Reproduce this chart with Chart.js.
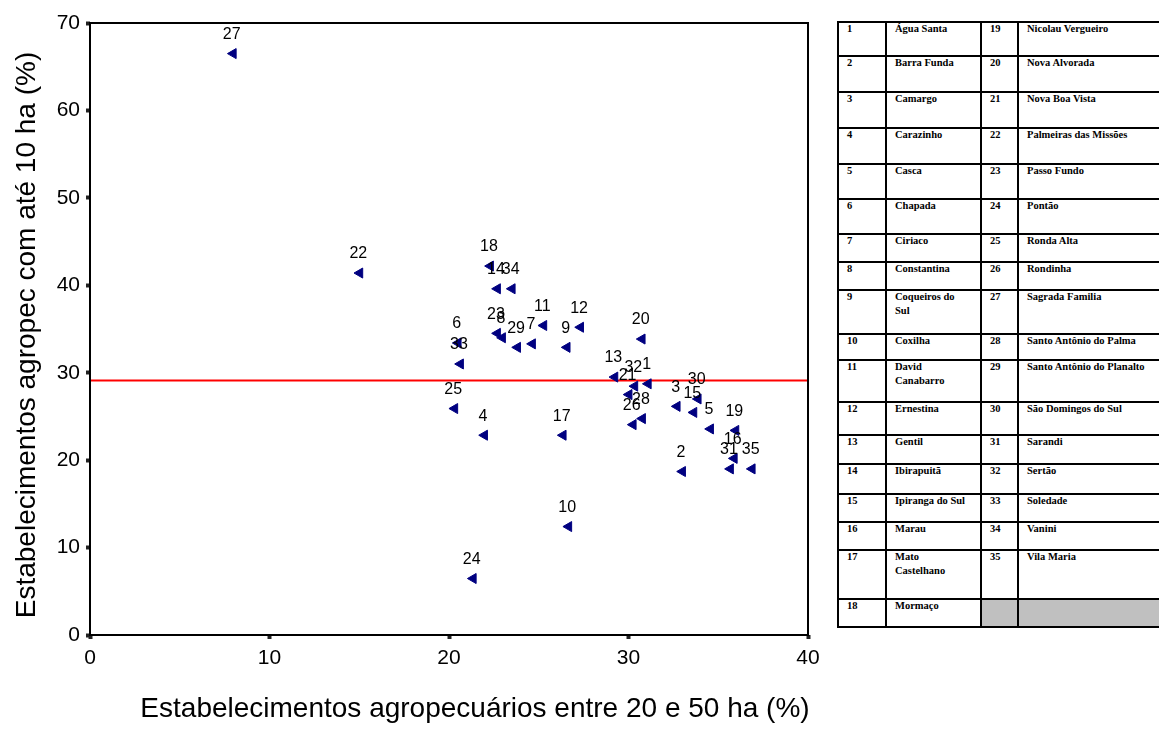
<!DOCTYPE html>
<html>
<head>
<meta charset="utf-8">
<script src="https://cdn.jsdelivr.net/npm/chart.js@4.4.0/dist/chart.umd.min.js"></script>
<style>
  html, body { margin: 0; padding: 0; background: #fff; overflow: hidden; }
  #wrap { position: relative; width: 1159px; height: 742px; }
  #grafico { position: absolute; left: 0; top: 0; }
  #legenda {
    position: absolute; left: 837px; top: 21px;
    border-collapse: collapse; table-layout: fixed; width: 330px;
    font-family: "Times New Roman", "Liberation Serif", serif;
    font-weight: bold; font-size: 10.5px; line-height: 14px; color: #000;
  }
  #legenda td { border: 2px solid #000; vertical-align: top; padding: 0 0 0 8px; }
  #legenda td span { position: relative; top: -1px; display: block; }
  #legenda td.nome { padding-right: 12px; }
  #legenda td.vazio { background: #c0c0c0; }
</style>
</head>
<body>
<div id="wrap">
  <canvas id="grafico" width="830" height="742"></canvas>
  <table id="legenda">
    <colgroup><col style="width:48px"><col style="width:95px"><col style="width:37px"><col style="width:150px"></colgroup>
    <tbody></tbody>
  </table>
</div>
<script>
/* DADOS */

const municipios = [
  'Água Santa', 'Barra Funda', 'Camargo', 'Carazinho', 'Casca', 'Chapada',
  'Ciriaco', 'Constantina', 'Coqueiros do Sul', 'Coxilha', 'David Canabarro', 'Ernestina',
  'Gentil', 'Ibirapuitã', 'Ipiranga do Sul', 'Marau', 'Mato Castelhano', 'Mormaço',
  'Nicolau Vergueiro', 'Nova Alvorada', 'Nova Boa Vista', 'Palmeiras das Missões', 'Passo Fundo', 'Pontão',
  'Ronda Alta', 'Rondinha', 'Sagrada Familia', 'Santo Antônio do Palma', 'Santo Antônio do Planalto', 'São Domingos do Sul',
  'Sarandi', 'Sertão', 'Soledade', 'Vanini', 'Vila Maria'
];

// estabelecimentos agropecuarios entre 20 e 50 ha (%)
const entre20e50 = [
  31.10, 33.01, 32.71, 21.98, 34.57, 20.51,
  24.65, 22.98, 26.58, 26.67, 25.28, 27.33,
  29.24, 22.70, 33.64, 35.89, 26.36, 22.31,
  35.98, 30.76, 30.03, 15.03, 22.70, 21.35,
  20.32, 30.26, 7.98, 30.78, 23.82, 33.88,
  35.68, 30.35, 20.64, 23.52, 36.89
];

// estabelecimentos agropecuarios com ate 10 ha (%)
const ate10 = [
  28.73, 18.70, 26.15, 22.85, 23.57, 33.40,
  33.30, 34.00, 32.90, 12.40, 35.40, 35.20,
  29.50, 39.60, 25.46, 20.20, 22.85, 42.20,
  23.40, 33.85, 27.50, 41.40, 34.50, 6.46,
  25.90, 24.06, 66.50, 24.75, 32.90, 27.00,
  19.00, 28.46, 31.00, 39.60, 19.00
];

const linhaReferencia = 29.1;

const tituloX = 'Estabelecimentos agropecuários entre 20 e 50 ha (%)';
const tituloY = 'Estabelecimentos agropec com até 10 ha (%)';

/* TABELA DE LEGENDA */

const rowHeights = [34, 36, 36, 35.6, 35, 35, 28.4, 28.3, 43.3, 26.7, 41.7, 33.3, 28.3, 30, 28.4, 28.3, 48.3, 28.4];

function montarTabela() {
  const corpo = document.querySelector('#legenda tbody');
  const metade = Math.ceil(municipios.length / 2);
  for (let i = 0; i < metade; i++) {
    const tr = corpo.insertRow();
    tr.style.height = rowHeights[i] + 'px';
    const j = i + metade;
    const celulas = [String(i + 1), municipios[i], j < municipios.length ? String(j + 1) : '', j < municipios.length ? municipios[j] : ''];
    celulas.forEach((txt, k) => {
      const td = tr.insertCell();
      const span = document.createElement('span');
      span.textContent = txt;
      td.appendChild(span);
      if (k === 1) td.className = 'nome';
      if (j >= municipios.length && k >= 2) td.className = 'vazio';
    });
  }
}
montarTabela();

/* GRAFICO */

const fonte = 'Arial, "Liberation Sans", sans-serif';

const rotulosPontos = {
  id: 'rotulosPontos',
  afterDatasetsDraw(chart) {
    const ctx = chart.ctx;
    const meta = chart.getDatasetMeta(0);
    ctx.save();
    ctx.font = '16px ' + fonte;
    ctx.fillStyle = '#000';
    ctx.textAlign = 'center';
    ctx.textBaseline = 'middle';
    meta.data.forEach((pt, i) => {
      ctx.fillText(String(i + 1), pt.x - 1.5, pt.y - 19);
    });
    ctx.restore();
  }
};

const moldura = {
  id: 'moldura',
  afterDraw(chart) {
    const {ctx, chartArea: a} = chart;
    ctx.save();
    ctx.strokeStyle = '#000';
    ctx.lineWidth = 2;
    ctx.strokeRect(a.left, a.top, a.right - a.left, a.bottom - a.top);

    ctx.fillStyle = '#000';
    ctx.font = '28px ' + fonte;
    ctx.textAlign = 'center';
    ctx.textBaseline = 'alphabetic';
    ctx.fillText(tituloX, 475, 717);

    ctx.translate(35, 335);
    ctx.rotate(-Math.PI / 2);
    ctx.fillText(tituloY, 0, 0);
    ctx.restore();
  }
};

const ctx = document.getElementById('grafico').getContext('2d');
const grafico = new Chart(ctx, {
  type: 'scatter',
  data: {
    datasets: [
      {
        label: 'Municípios',
        data: entre20e50.map((x, i) => ({x: x, y: ate10[i]})),
        pointStyle: 'triangle',
        rotation: -90,
        pointRadius: 5.8,
        pointBorderWidth: 1,
        backgroundColor: '#000080',
        borderColor: '#000080',
        order: 0
      },
      {
        label: 'Referência',
        data: [{x: 0, y: linhaReferencia}, {x: 40, y: linhaReferencia}],
        showLine: true,
        borderColor: '#ff0000',
        borderWidth: 2,
        pointRadius: 0,
        order: 1
      }
    ]
  },
  options: {
    responsive: false,
    animation: false,
    devicePixelRatio: 1,
    layout: { padding: { top: 23, right: 22, left: 0, bottom: 0 } },
    plugins: { legend: { display: false }, tooltip: { enabled: false } },
    scales: {
      x: {
        type: 'linear', min: 0, max: 40,
        afterFit(scale) { scale.height = 107; },
        ticks: { stepSize: 10, color: '#000', font: { size: 21, family: fonte }, padding: 7, maxRotation: 0 },
        grid: { drawOnChartArea: false, tickLength: 4, tickWidth: 4, tickColor: '#222' },
        border: { display: false }
      },
      y: {
        type: 'linear', min: 0, max: 70,
        afterFit(scale) { scale.width = 90; },
        ticks: { stepSize: 10, color: '#000', font: { size: 21, family: fonte }, padding: 6 },
        grid: { drawOnChartArea: false, tickLength: 4, tickWidth: 4, tickColor: '#222' },
        border: { display: false }
      }
    }
  },
  plugins: [rotulosPontos, moldura]
});
</script>
</body>
</html>
